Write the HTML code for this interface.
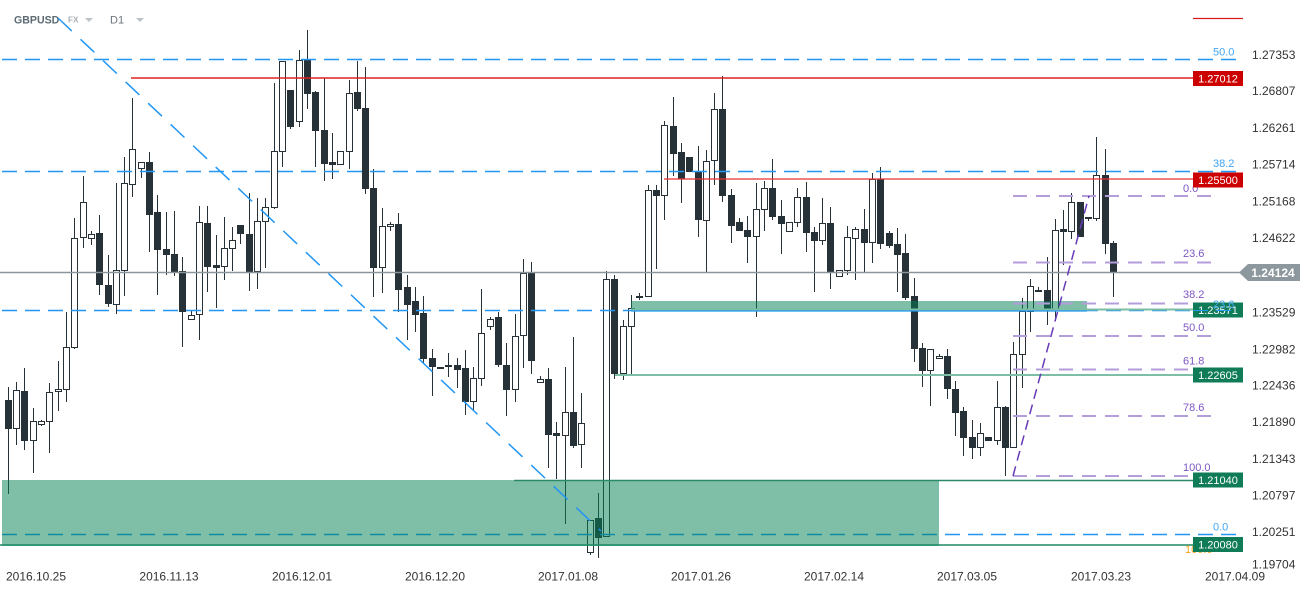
<!DOCTYPE html>
<html><head><meta charset="utf-8"><style>
html,body{margin:0;padding:0;background:#fff;}
svg{display:block;font-family:"Liberation Sans",sans-serif;}
</style></head><body>
<svg width="1311" height="594" viewBox="0 0 1311 594" xmlns="http://www.w3.org/2000/svg">
<rect x="0" y="0" width="1311" height="594" fill="#fff"/>

<!-- header -->
<text x="14" y="23.3" font-weight="bold" font-size="10.6" fill="#5d6b73">GBPUSD</text>
<text x="68" y="22.5" font-weight="bold" font-size="8.2" fill="#a8b0b5">FX</text>
<polygon points="85,18 93,18 89,22" fill="#bcc3c7"/>
<text x="110" y="23.3" font-size="11" fill="#6b767c">D1</text>
<polygon points="136,18 144,18 140,22" fill="#bcc3c7"/>
<line x1="1193" y1="18.5" x2="1243" y2="18.5" stroke="#d81b1b" stroke-width="1.2"/>

<!-- candles: wicks -->
<path fill="none" stroke="#263238" stroke-width="1" d="M8.5 387V494M16.5 382V445M24.5 368V450M33.5 408V473M41.5 420V426M49.5 383V453M58.5 361V411M66.5 312V402M74.5 218V349M83.5 176V248M91.5 231V245M99.5 215V295M108.5 255V307M116.5 183V314M124.5 157V296M132.5 98V197M141.5 162V178M149.5 152V252M157.5 195V295M166.5 212V275M174.5 211V276M182.5 257V347M191.5 311V320M199.5 206V340M207.5 206V292M216.5 235V308M224.5 217V280M232.5 227V271M240.5 225V244M249.5 193V291M257.5 198V289M265.5 198V268M274.5 83V209M282.5 61V167M290.5 90V129M299.5 50V127M307.5 30V109M315.5 91V167M324.5 78V181M332.5 133V179M340.5 151V165M349.5 80V169M357.5 61V111M365.5 67V194M373.5 169V297M382.5 208V293M390.5 222V231M398.5 213V312M407.5 275V340M415.5 287V332M423.5 296V363M432.5 349V396M440.5 367V369M448.5 353V377M457.5 358V388M465.5 350V415M473.5 367V410M481.5 289V386M490.5 317V330M498.5 312V367M506.5 343V416M515.5 314V402M523.5 259V368M531.5 262V374M540.5 376V383M548.5 368V468M556.5 422V479M565.5 367V524M573.5 337V448M581.5 393V468M590.5 520V555M598.5 493V558M606.5 271V537M614.5 275V379M623.5 320V380M631.5 295V375M639.5 293V300M648.5 185V297M656.5 185V269M664.5 121V220M673.5 97V176M681.5 143V203M689.5 157V172M698.5 146V237M706.5 150V272M714.5 93V185M722.5 76V202M731.5 189V243M739.5 218V231M747.5 216V263M756.5 183V317M764.5 181V231M772.5 159V220M781.5 200V254M789.5 222V232M797.5 188V227M806.5 182V252M814.5 227V292M822.5 198V245M830.5 207V289M839.5 270V277M847.5 226V275M855.5 227V280M864.5 209V272M872.5 173V263M880.5 167V249M889.5 231V248M897.5 228V292M905.5 234V300M914.5 278V362M922.5 343V387M930.5 349V406M939.5 354V359M947.5 349V399M955.5 381V436M963.5 407V456M972.5 420V459M980.5 423V456M988.5 437V441M997.5 381V445M1005.5 406V476M1013.5 342V448M1022.5 298V388M1030.5 279V332M1038.5 287V292M1047.5 257V325M1055.5 219V321M1063.5 210V265M1071.5 193V239M1080.5 202V237M1088.5 217V221M1096.5 137V221M1105.5 149V254M1113.5 241V297"/>

<!-- black bodies -->
<g fill="#263238">
<rect x="5" y="400" width="7" height="29"/><rect x="21" y="391" width="7" height="50"/><rect x="96" y="233" width="7" height="52"/><rect x="105" y="285" width="7" height="19"/><rect x="146" y="162" width="7" height="53"/><rect x="154" y="212" width="7" height="38"/><rect x="163" y="249" width="7" height="6"/><rect x="171" y="254" width="7" height="18"/><rect x="179" y="271" width="7" height="41"/><rect x="204" y="223" width="7" height="44"/><rect x="213" y="265" width="7" height="3"/><rect x="237" y="225" width="7" height="9"/><rect x="246" y="234" width="7" height="38"/><rect x="287" y="90" width="7" height="37"/><rect x="304" y="60" width="7" height="34"/><rect x="312" y="92" width="7" height="39"/><rect x="321" y="130" width="7" height="34"/><rect x="329" y="162" width="7" height="3"/><rect x="354" y="92" width="7" height="17"/><rect x="362" y="108" width="7" height="81"/><rect x="370" y="188" width="7" height="80"/><rect x="395" y="224" width="7" height="66"/><rect x="404" y="287" width="7" height="18"/><rect x="412" y="301" width="7" height="14"/><rect x="420" y="313" width="7" height="46"/><rect x="429" y="358" width="7" height="9"/><rect x="454" y="365" width="7" height="5"/><rect x="462" y="368" width="7" height="34"/><rect x="495" y="317" width="7" height="48"/><rect x="503" y="365" width="7" height="25"/><rect x="528" y="273" width="7" height="88"/><rect x="545" y="379" width="7" height="56"/><rect x="553" y="433" width="7" height="3"/><rect x="570" y="412" width="7" height="34"/><rect x="595" y="518" width="7" height="20"/><rect x="611" y="279" width="7" height="95"/><rect x="653" y="190" width="7" height="6"/><rect x="670" y="126" width="7" height="28"/><rect x="678" y="152" width="7" height="27"/><rect x="686" y="157" width="7" height="15"/><rect x="695" y="171" width="7" height="49"/><rect x="719" y="109" width="7" height="87"/><rect x="728" y="195" width="7" height="31"/><rect x="736" y="222" width="7" height="9"/><rect x="744" y="230" width="7" height="7"/><rect x="769" y="188" width="7" height="29"/><rect x="778" y="216" width="7" height="8"/><rect x="803" y="197" width="7" height="36"/><rect x="811" y="232" width="7" height="9"/><rect x="827" y="223" width="7" height="49"/><rect x="861" y="229" width="7" height="14"/><rect x="877" y="179" width="7" height="65"/><rect x="886" y="233" width="7" height="13"/><rect x="894" y="244" width="7" height="11"/><rect x="902" y="253" width="7" height="45"/><rect x="911" y="296" width="7" height="53"/><rect x="919" y="348" width="7" height="23"/><rect x="944" y="356" width="7" height="33"/><rect x="952" y="389" width="7" height="24"/><rect x="960" y="411" width="7" height="27"/><rect x="969" y="437" width="7" height="11"/><rect x="985" y="437" width="7" height="4"/><rect x="1002" y="407" width="7" height="41"/><rect x="1044" y="290" width="7" height="20"/><rect x="1060" y="229" width="7" height="3"/><rect x="1077" y="202" width="7" height="35"/><rect x="1085" y="217" width="7" height="2"/><rect x="1102" y="175" width="7" height="69"/><rect x="1110" y="243" width="7" height="29"/>
</g>

<!-- white bodies -->
<g fill="#fff" stroke="#263238" stroke-width="1">
<rect x="13.5" y="390.5" width="6" height="38"/><rect x="30.5" y="421.5" width="6" height="19"/><rect x="38.5" y="421.5" width="6" height="3"/><rect x="46.5" y="392.5" width="6" height="29"/><rect x="55.5" y="389.5" width="6" height="2"/><rect x="63.5" y="347.5" width="6" height="42"/><rect x="71.5" y="238.5" width="6" height="109"/><rect x="80.5" y="202.5" width="6" height="35"/><rect x="88.5" y="234.5" width="6" height="4"/><rect x="113.5" y="270.5" width="6" height="34"/><rect x="121.5" y="183.5" width="6" height="87"/><rect x="129.5" y="149.5" width="6" height="35"/><rect x="138.5" y="162.5" width="6" height="6"/><rect x="188.5" y="315.5" width="6" height="4"/><rect x="196.5" y="222.5" width="6" height="92"/><rect x="221.5" y="248.5" width="6" height="18"/><rect x="229.5" y="240.5" width="6" height="8"/><rect x="254.5" y="221.5" width="6" height="50"/><rect x="262.5" y="207.5" width="6" height="14"/><rect x="271.5" y="151.5" width="6" height="56"/><rect x="279.5" y="61.5" width="6" height="90"/><rect x="296.5" y="60.5" width="6" height="61"/><rect x="337.5" y="151.5" width="6" height="13"/><rect x="346.5" y="93.5" width="6" height="58"/><rect x="379.5" y="226.5" width="6" height="41"/><rect x="387.5" y="224.5" width="6" height="2"/><rect x="437.5" y="367.5" width="6" height="1"/><rect x="445.5" y="365.5" width="6" height="1"/><rect x="470.5" y="378.5" width="6" height="23"/><rect x="478.5" y="333.5" width="6" height="45"/><rect x="487.5" y="319.5" width="6" height="7"/><rect x="512.5" y="336.5" width="6" height="53"/><rect x="520.5" y="273.5" width="6" height="62"/><rect x="537.5" y="379.5" width="6" height="3"/><rect x="562.5" y="412.5" width="6" height="23"/><rect x="578.5" y="423.5" width="6" height="21"/><rect x="587.5" y="520.5" width="6" height="32"/><rect x="603.5" y="279.5" width="6" height="257"/><rect x="620.5" y="326.5" width="6" height="47"/><rect x="628.5" y="308.5" width="6" height="18"/><rect x="636.5" y="296.5" width="6" height="1"/><rect x="645.5" y="190.5" width="6" height="106"/><rect x="661.5" y="125.5" width="6" height="70"/><rect x="703.5" y="161.5" width="6" height="59"/><rect x="711.5" y="109.5" width="6" height="51"/><rect x="753.5" y="209.5" width="6" height="27"/><rect x="761.5" y="188.5" width="6" height="21"/><rect x="786.5" y="222.5" width="6" height="9"/><rect x="794.5" y="197.5" width="6" height="25"/><rect x="819.5" y="223.5" width="6" height="17"/><rect x="836.5" y="270.5" width="6" height="6"/><rect x="844.5" y="237.5" width="6" height="33"/><rect x="852.5" y="229.5" width="6" height="9"/><rect x="869.5" y="179.5" width="6" height="63"/><rect x="927.5" y="349.5" width="6" height="21"/><rect x="936.5" y="356.5" width="6" height="2"/><rect x="977.5" y="433.5" width="6" height="14"/><rect x="994.5" y="407.5" width="6" height="33"/><rect x="1010.5" y="354.5" width="6" height="93"/><rect x="1019.5" y="311.5" width="6" height="43"/><rect x="1027.5" y="286.5" width="6" height="25"/><rect x="1035.5" y="290.5" width="6" height="1"/><rect x="1052.5" y="230.5" width="6" height="79"/><rect x="1068.5" y="202.5" width="6" height="29"/><rect x="1093.5" y="175.5" width="6" height="43"/>
</g>

<!-- blue fib horizontal dashed lines -->
<g stroke="#2196f3" stroke-width="1.5" stroke-dasharray="15 8" fill="none">
<line x1="2" y1="59.5" x2="1236" y2="59.5"/>
<line x1="2" y1="171.5" x2="1236" y2="171.5"/>
<line x1="2" y1="310.5" x2="1236" y2="310.5"/>
<line x1="2" y1="534.5" x2="1236" y2="534.5"/>
</g>

<!-- green zones -->
<rect x="2" y="480" width="937" height="66" fill="rgba(0,128,82,0.5)"/>
<rect x="631" y="301" width="456" height="10" fill="rgba(0,128,82,0.5)"/>

<!-- horizontal level lines -->
<line x1="0" y1="545" x2="1193" y2="545" stroke="#1f8a62" stroke-width="1.5"/>
<line x1="514" y1="480.5" x2="1193" y2="480.5" stroke="#2a8a68" stroke-width="1.5"/>
<line x1="615" y1="375" x2="1193" y2="375" stroke="#7dbea6" stroke-width="2"/>
<line x1="631" y1="309.5" x2="1193" y2="309.5" stroke="#7dbea6" stroke-width="2"/>
<line x1="631" y1="311" x2="1087" y2="311" stroke="#2196f3" stroke-width="1.3"/>
<line x1="0" y1="272.5" x2="1240" y2="272.5" stroke="#8a969c" stroke-width="1.5"/>
<line x1="131" y1="78" x2="1193" y2="78" stroke="#e02020" stroke-width="1.4"/>
<line x1="664" y1="179" x2="1193" y2="179" stroke="#e53030" stroke-width="1.2"/>

<!-- blue diagonal -->
<line x1="58" y1="18" x2="601" y2="531" stroke="#2196f3" stroke-width="1.5" stroke-dasharray="19 12"/>

<!-- purple fib -->
<g stroke="#b39ddb" stroke-width="2" stroke-dasharray="14 9" fill="none">
<line x1="1013" y1="196" x2="1213" y2="196"/>
<line x1="1013" y1="262.5" x2="1213" y2="262.5"/>
<line x1="1013" y1="303.5" x2="1213" y2="303.5"/>
<line x1="1013" y1="336" x2="1213" y2="336"/>
<line x1="1013" y1="369.5" x2="1213" y2="369.5"/>
<line x1="1013" y1="416" x2="1213" y2="416"/>
<line x1="1013" y1="476" x2="1213" y2="476"/>
</g>
<line x1="1013" y1="476" x2="1089" y2="196" stroke="#673ab7" stroke-width="1.5" stroke-dasharray="10 6"/>

<g font-size="11" fill="#7e57c2">
<text x="1183" y="192">0.0</text>
<text x="1183" y="257">23.6</text>
<text x="1183" y="298">38.2</text>
<text x="1183" y="331">50.0</text>
<text x="1183" y="364.5">61.8</text>
<text x="1183" y="411">78.6</text>
<text x="1183" y="471">100.0</text>
</g>
<g font-size="11" fill="#42a5f5">
<text x="1213" y="55.5">50.0</text>
<text x="1213" y="167">38.2</text>
<text x="1213" y="530.5">0.0</text>
</g>
<text x="1185" y="553" font-size="11" fill="#f5a623">100.0</text>

<!-- badges -->
<rect x="1193" y="71" width="50" height="15" fill="#cc0000"/>
<text x="1218" y="82.5" font-size="11" fill="#fff" text-anchor="middle">1.27012</text>
<rect x="1193" y="172.5" width="50" height="15" fill="#cc0000"/>
<text x="1218" y="184" font-size="11" fill="#fff" text-anchor="middle">1.25500</text>
<rect x="1193" y="302.5" width="50" height="15" fill="#0f7b57"/>
<text x="1218" y="314" font-size="11" fill="#fff" text-anchor="middle">1.23571</text>
<text x="1213" y="308" font-size="11" fill="#42a5f5">23.6</text>
<line x1="1193" y1="310.5" x2="1236" y2="310.5" stroke="#2196f3" stroke-width="1" stroke-dasharray="15 8"/>
<rect x="1193" y="367.5" width="50" height="15" fill="#0f7b57"/>
<text x="1218" y="379" font-size="11" fill="#fff" text-anchor="middle">1.22605</text>
<rect x="1193" y="472.5" width="50" height="15" fill="#0f7b57"/>
<text x="1218" y="484" font-size="11" fill="#fff" text-anchor="middle">1.21040</text>
<rect x="1193" y="537" width="50" height="15" fill="#0f7b57"/>
<text x="1218" y="548.5" font-size="11" fill="#fff" text-anchor="middle">1.20080</text>

<polygon points="1239,272.5 1248,264 1300,264 1300,281 1248,281" fill="#8d989e"/>
<text x="1273" y="277" font-size="12" font-weight="bold" fill="#fff" text-anchor="middle">1.24124</text>

<!-- price axis -->
<g font-size="12" fill="#333">
<text x="1252" y="59">1.27353</text>
<text x="1252" y="95">1.26807</text>
<text x="1252" y="132">1.26261</text>
<text x="1252" y="168.5">1.25714</text>
<text x="1252" y="205.5">1.25168</text>
<text x="1252" y="242">1.24622</text>
<text x="1252" y="316.5">1.23529</text>
<text x="1252" y="353.5">1.22982</text>
<text x="1252" y="389.5">1.22436</text>
<text x="1252" y="426">1.21890</text>
<text x="1252" y="463">1.21343</text>
<text x="1252" y="499.5">1.20797</text>
<text x="1252" y="536">1.20251</text>
<text x="1252" y="568.5">1.19704</text>
</g>

<!-- date axis -->
<g font-size="12" fill="#333" text-anchor="middle">
<text x="36" y="580.5">2016.10.25</text>
<text x="169" y="580.5">2016.11.13</text>
<text x="302" y="580.5">2016.12.01</text>
<text x="435" y="580.5">2016.12.20</text>
<text x="568" y="580.5">2017.01.08</text>
<text x="701" y="580.5">2017.01.26</text>
<text x="834" y="580.5">2017.02.14</text>
<text x="967" y="580.5">2017.03.05</text>
<text x="1101" y="580.5">2017.03.23</text>
<text x="1235" y="580.5">2017.04.09</text>
</g>
</svg>
</body></html>
